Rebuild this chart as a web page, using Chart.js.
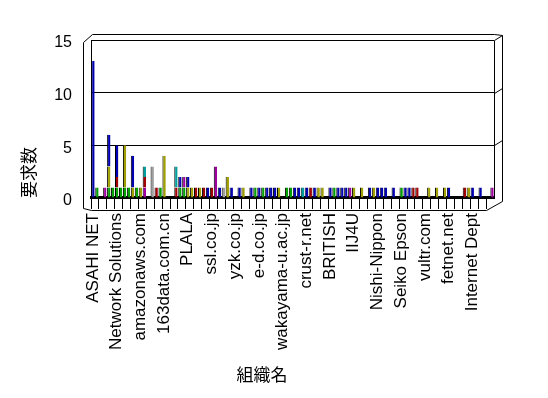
<!DOCTYPE html>
<html>
<head>
<meta charset="utf-8">
<script src="https://cdn.jsdelivr.net/npm/chart.js@4.4.1/dist/chart.umd.min.js"></script>
<style>
  html, body { margin: 0; padding: 0; background: #fff; }
  #wrap { width: 548px; height: 398px; }
</style>
</head>
<body>
<div id="wrap"><canvas id="chart"></canvas></div>
<script>
// organisation names printed under the floor (every 6th category)
const shownNames = [
  'ASAHI NET', 'Network Solutions', 'amazonaws.com', '163data.com.cn', 'PLALA',
  'ssl.co.jp', 'yzk.co.jp', 'e-d.co.jp', 'wakayama-u.ac.jp', 'crust-r.net',
  'BRITISH', 'IIJ4U', 'Nishi-Nippon', 'Seiko Epson', 'vultr.com', 'fetnet.net',
  'Internet Dept'
];
const categoryCount = 102;
const labelEvery = 6;
const categories = Array.from({ length: categoryCount }, (_, i) =>
  i % labelEvery === 0 ? shownNames[i / labelEvery] : '');

// request counts per series (stacked bottom to top)
const greenCounts = [
  0,1,0,0,1,1,1,1,1,1,  0,1,0,0,0,0,0,1,0,0,  0,0,1,1,0,0,0,0,0,0,
  0,0,0,0,0,0,0,0,0,0,  0,1,0,1,0,0,0,0,0,1,  1,0,0,0,0,0,0,0,0,0,
  0,1,0,0,0,0,0,0,0,0,  0,0,0,0,0,0,0,0,1,0,  0,0,0,0,0,0,0,0,0,0,
  0,0,0,0,0,0,0,0,0,0,  0,0
];
const purpleCounts = [
  0,0,0,1,0,0,0,0,0,0,  0,0,0,1,0,0,0,0,0,0,  0,0,0,1,0,0,0,0,0,0,
  0,3,0,0,0,0,0,0,0,0,  0,0,0,0,0,0,0,0,0,0,  0,0,0,0,0,0,0,0,0,0,
  0,0,0,0,0,1,0,0,0,0,  0,0,0,0,0,0,0,0,0,0,  0,0,0,0,0,0,0,0,0,0,
  0,0,0,0,0,0,0,0,0,0,  0,1
];
const redCounts = [
  0,0,0,0,0,0,1,0,0,0,  0,0,0,1,0,0,1,0,0,0,  0,1,0,0,0,0,1,0,1,0,
  1,0,0,0,0,0,0,0,0,0,  0,0,0,0,0,0,0,0,0,0,  0,0,0,0,0,1,0,0,0,0,
  0,0,0,0,0,0,0,0,0,0,  0,0,0,0,0,0,0,0,0,0,  0,1,1,0,0,0,0,0,0,0,
  0,0,0,0,1,0,0,0,0,0,  0,0
];
const oliveCounts = [
  0,0,0,0,2,0,0,0,4,0,  1,0,1,0,0,0,0,0,4,0,  0,0,0,0,1,1,0,1,0,0,
  0,0,0,0,2,0,0,0,1,0,  0,0,0,0,0,0,0,1,0,0,  0,0,0,0,0,0,0,1,1,0,
  0,0,0,0,0,0,1,0,1,0,  0,1,0,0,0,0,0,0,0,0,  0,0,0,0,0,1,0,1,0,1,
  0,0,0,0,0,1,0,0,0,0,  0,0
];
const tealCounts = [
  0,0,0,0,0,0,0,0,0,0,  0,0,0,1,0,0,0,0,0,0,  0,2,0,0,0,0,0,0,0,0,
  0,0,0,0,0,0,0,0,0,0,  0,0,0,0,0,0,0,0,0,0,  0,0,0,1,0,0,0,0,0,0,
  0,0,0,0,0,0,0,0,0,0,  0,0,0,0,0,0,0,0,0,0,  0,0,0,0,0,0,0,0,0,0,
  0,0,0,0,0,0,0,0,0,0,  0,0
];
const grayCounts = [
  0,0,0,0,0,0,0,0,0,0,  0,0,0,0,0,3,0,0,0,0,  0,0,0,0,0,0,0,0,0,0,
  0,0,0,1,0,0,0,0,0,0,  0,0,0,0,0,0,0,0,0,0,  0,0,0,0,0,0,0,0,0,0,
  0,0,0,0,0,0,0,0,0,0,  0,0,0,0,0,0,0,0,0,0,  0,0,0,0,0,0,0,0,0,0,
  0,0,0,0,0,0,0,0,0,0,  0,0
];
const blueCounts = [
  13,0,0,0,3,0,3,0,0,0, 3,0,0,0,0,0,0,0,0,0,  0,0,1,0,1,0,0,0,0,1,
  0,0,1,0,0,1,0,1,0,0,  1,0,1,0,1,1,1,0,0,0,  0,1,1,0,1,0,1,0,0,0,
  1,0,1,1,1,0,0,0,0,0,  1,0,1,1,1,0,1,0,0,1,  1,0,0,0,0,0,0,0,0,0,
  1,0,0,0,0,0,1,0,1,0,  0,0
];

const yMax = 15;
const yStep = 5;
const yTitle = '要求数';
const xTitle = '組織名';

const latin = '"Liberation Sans", Arial, sans-serif';
const cjk = '"Noto Sans CJK JP", sans-serif';

// old spreadsheet style box: side walls, top edge and floor strip
const excelFrame = {
  id: 'excelFrame',
  afterDraw(chart) {
    const { ctx, chartArea: a } = chart;
    const y = chart.scales.y;
    const sx = 8, sy = 6, floor = 12;
    const L = Math.round(a.left) + 0.5;
    const R = Math.round(a.right) + 0.5;
    const T = Math.round(a.top) + 0.5;
    const B = Math.round(a.bottom) + 0.5;
    ctx.save();
    ctx.strokeStyle = '#000';
    ctx.lineWidth = 1;
    ctx.beginPath();
    // left wall
    ctx.moveTo(L - sx, T + 2); ctx.lineTo(L - sx, B + floor - 2);
    ctx.moveTo(L - sx, T + 2); ctx.lineTo(L + 1, T - sy);
    ctx.lineTo(R, T - sy);
    ctx.moveTo(L - sx, B + floor - 2); ctx.lineTo(L, B + floor);
    // right wall
    ctx.moveTo(R, T); ctx.lineTo(R, B);
    ctx.moveTo(R, T - sy); ctx.lineTo(R + sx, T - sy + 1);
    ctx.lineTo(R + sx, B + 3);
    [5, 10, 15].forEach(v => {
      const gy = Math.round(y.getPixelForValue(v)) + 0.5;
      ctx.moveTo(R, gy); ctx.lineTo(R + sx, gy - 5);
    });
    // floor strip
    ctx.moveTo(L, B + floor); ctx.lineTo(R - sx, B + floor);
    ctx.lineTo(R + sx, B + 3);
    ctx.stroke();

    ctx.fillStyle = '#000';
    ctx.font = '17px ' + cjk;
    ctx.textAlign = 'center';
    ctx.textBaseline = 'middle';
    ctx.fillText(xTitle, 262, 375);
    ctx.restore();
  }
};

const series = [
  { label: 'green', data: greenCounts, color: '#00a000' },
  { label: 'purple', data: purpleCounts, color: '#a000a0' },
  { label: 'red', data: redCounts, color: '#a00000' },
  { label: 'olive', data: oliveCounts, color: '#a0a000' },
  { label: 'teal', data: tealCounts, color: '#00a0a0' },
  { label: 'gray', data: grayCounts, color: '#a0a0a0' },
  { label: 'blue', data: blueCounts, color: '#0000b0' }
];

new Chart(document.getElementById('chart'), {
  type: 'bar',
  data: {
    labels: categories,
    datasets: series.map(s => ({
      label: s.label,
      data: s.data,
      backgroundColor: s.color,
      borderColor: '#000',
      borderWidth: { left: 1 },
      borderSkipped: false,
      barPercentage: 0.85,
      categoryPercentage: 1
    }))
  },
  options: {
    responsive: true,
    maintainAspectRatio: false,
    animation: false,
    layout: { padding: { top: 40, right: 54, bottom: 44, left: 0 } },
    plugins: {
      legend: { display: false },
      tooltip: { enabled: false }
    },
    scales: {
      x: {
        stacked: true,
        offset: true,
        grid: {
          offset: true,
          drawOnChartArea: false,
          drawTicks: true,
          tickLength: 11,
          color: ctx => ctx.index % 2 === 0 ? '#000' : 'rgba(0,0,0,0)'
        },
        border: { display: true, color: '#000', width: 3 },
        ticks: {
          autoSkip: false,
          maxRotation: 90,
          minRotation: 90,
          padding: 4,
          color: '#000',
          font: { family: latin, size: 17 }
        }
      },
      y: {
        stacked: true,
        min: 0,
        max: yMax,
        afterFit: scale => { scale.width = 91; },
        ticks: {
          stepSize: yStep,
          padding: 19,
          labelOffset: 3,
          color: '#000',
          font: { family: latin, size: 16 }
        },
        grid: { color: '#000', drawTicks: false },
        border: { display: true, color: '#000' },
        title: {
          display: true,
          text: yTitle,
          align: 'start',
          color: '#000',
          padding: { top: 18, bottom: 0 },
          font: { family: cjk, size: 17 }
        }
      }
    }
  },
  plugins: [excelFrame]
});
</script>
</body>
</html>
